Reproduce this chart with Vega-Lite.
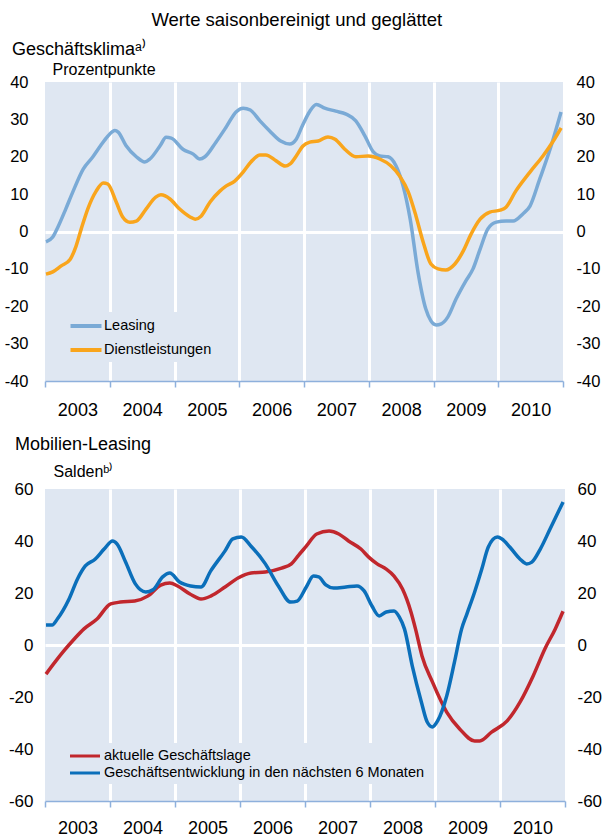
{
  "$schema": "https://vega.github.io/schema/vega-lite/v6.json",
  "padding": {"left": 0, "top": 10, "right": 0, "bottom": 0},
  "background": "white",
  "title": {"text": "Werte saisonbereinigt und geglättet", "fontSize": 18.5, "font": "Liberation Sans", "fontWeight": "normal", "color": "#000", "anchor": "middle", "dx": -4, "offset": 12},
  "config": {
    "font": "Liberation Sans",
    "view": {"fill": "#dfe7f2", "stroke": null},
    "axis": {"labelFont": "Liberation Sans", "labelColor": "#000", "titleFont": "Liberation Sans", "titleColor": "#000", "titleFontWeight": "normal"},
    "legend": {"labelFont": "Liberation Sans", "labelColor": "#000"},
    "title": {"font": "Liberation Sans", "color": "#000", "fontWeight": "normal"}
  },
  "columns": 1,
  "spacing": 17,
  "resolve": {"scale": {"color": "independent"}, "legend": {"color": "independent"}},
  "datasets": {
    "top": [
      {"s": "Leasing", "t": 2003.015, "v": -2.8}, {"s": "Leasing", "t": 2003.12, "v": -1.5}, {"s": "Leasing", "t": 2003.2, "v": 1.2}, {"s": "Leasing", "t": 2003.32, "v": 6}, {"s": "Leasing", "t": 2003.43, "v": 10.6}, {"s": "Leasing", "t": 2003.59, "v": 16.7}, {"s": "Leasing", "t": 2003.74, "v": 20}, {"s": "Leasing", "t": 2003.86, "v": 23}, {"s": "Leasing", "t": 2003.97, "v": 25.5}, {"s": "Leasing", "t": 2004.08, "v": 27}, {"s": "Leasing", "t": 2004.13, "v": 26.6}, {"s": "Leasing", "t": 2004.25, "v": 23}, {"s": "Leasing", "t": 2004.41, "v": 20}, {"s": "Leasing", "t": 2004.54, "v": 18.6}, {"s": "Leasing", "t": 2004.62, "v": 19.4}, {"s": "Leasing", "t": 2004.78, "v": 23}, {"s": "Leasing", "t": 2004.87, "v": 25.2}, {"s": "Leasing", "t": 2004.95, "v": 25}, {"s": "Leasing", "t": 2005.13, "v": 22}, {"s": "Leasing", "t": 2005.29, "v": 20.7}, {"s": "Leasing", "t": 2005.39, "v": 19.4}, {"s": "Leasing", "t": 2005.47, "v": 20}, {"s": "Leasing", "t": 2005.64, "v": 23.9}, {"s": "Leasing", "t": 2005.8, "v": 28}, {"s": "Leasing", "t": 2005.95, "v": 32}, {"s": "Leasing", "t": 2006.06, "v": 33}, {"s": "Leasing", "t": 2006.17, "v": 32.5}, {"s": "Leasing", "t": 2006.32, "v": 29.6}, {"s": "Leasing", "t": 2006.47, "v": 26.9}, {"s": "Leasing", "t": 2006.64, "v": 24.2}, {"s": "Leasing", "t": 2006.78, "v": 23.4}, {"s": "Leasing", "t": 2006.88, "v": 24.7}, {"s": "Leasing", "t": 2006.98, "v": 28.5}, {"s": "Leasing", "t": 2007.09, "v": 32.2}, {"s": "Leasing", "t": 2007.19, "v": 34}, {"s": "Leasing", "t": 2007.32, "v": 33}, {"s": "Leasing", "t": 2007.49, "v": 32.2}, {"s": "Leasing", "t": 2007.65, "v": 31.4}, {"s": "Leasing", "t": 2007.8, "v": 29.6}, {"s": "Leasing", "t": 2007.94, "v": 25.6}, {"s": "Leasing", "t": 2008.07, "v": 21.3}, {"s": "Leasing", "t": 2008.17, "v": 20.2}, {"s": "Leasing", "t": 2008.3, "v": 20}, {"s": "Leasing", "t": 2008.42, "v": 17.6}, {"s": "Leasing", "t": 2008.53, "v": 12.2}, {"s": "Leasing", "t": 2008.64, "v": 3.3}, {"s": "Leasing", "t": 2008.76, "v": -10.8}, {"s": "Leasing", "t": 2008.88, "v": -20.7}, {"s": "Leasing", "t": 2008.96, "v": -23.9}, {"s": "Leasing", "t": 2009.04, "v": -25}, {"s": "Leasing", "t": 2009.12, "v": -24.7}, {"s": "Leasing", "t": 2009.22, "v": -22.9}, {"s": "Leasing", "t": 2009.35, "v": -18}, {"s": "Leasing", "t": 2009.5, "v": -13.2}, {"s": "Leasing", "t": 2009.61, "v": -10}, {"s": "Leasing", "t": 2009.72, "v": -4.7}, {"s": "Leasing", "t": 2009.84, "v": 0.7}, {"s": "Leasing", "t": 2009.97, "v": 2.5}, {"s": "Leasing", "t": 2010.12, "v": 2.8}, {"s": "Leasing", "t": 2010.23, "v": 2.8}, {"s": "Leasing", "t": 2010.38, "v": 4.7}, {"s": "Leasing", "t": 2010.49, "v": 6.8}, {"s": "Leasing", "t": 2010.64, "v": 14}, {"s": "Leasing", "t": 2010.8, "v": 22}, {"s": "Leasing", "t": 2010.97, "v": 32},
      {"s": "Dienstleistungen", "t": 2003.015, "v": -11.4}, {"s": "Dienstleistungen", "t": 2003.12, "v": -10.8}, {"s": "Dienstleistungen", "t": 2003.25, "v": -9.2}, {"s": "Dienstleistungen", "t": 2003.39, "v": -7.4}, {"s": "Dienstleistungen", "t": 2003.48, "v": -3.9}, {"s": "Dienstleistungen", "t": 2003.56, "v": 0.7}, {"s": "Dienstleistungen", "t": 2003.66, "v": 6}, {"s": "Dienstleistungen", "t": 2003.79, "v": 10.8}, {"s": "Dienstleistungen", "t": 2003.9, "v": 13}, {"s": "Dienstleistungen", "t": 2003.97, "v": 12.7}, {"s": "Dienstleistungen", "t": 2004.1, "v": 7.9}, {"s": "Dienstleistungen", "t": 2004.2, "v": 3.9}, {"s": "Dienstleistungen", "t": 2004.31, "v": 2.5}, {"s": "Dienstleistungen", "t": 2004.41, "v": 2.8}, {"s": "Dienstleistungen", "t": 2004.56, "v": 6}, {"s": "Dienstleistungen", "t": 2004.71, "v": 9.2}, {"s": "Dienstleistungen", "t": 2004.79, "v": 9.8}, {"s": "Dienstleistungen", "t": 2004.93, "v": 8.7}, {"s": "Dienstleistungen", "t": 2005.08, "v": 6}, {"s": "Dienstleistungen", "t": 2005.24, "v": 3.9}, {"s": "Dienstleistungen", "t": 2005.32, "v": 3.3}, {"s": "Dienstleistungen", "t": 2005.41, "v": 4.1}, {"s": "Dienstleistungen", "t": 2005.55, "v": 7.9}, {"s": "Dienstleistungen", "t": 2005.7, "v": 10.8}, {"s": "Dienstleistungen", "t": 2005.8, "v": 12.2}, {"s": "Dienstleistungen", "t": 2005.93, "v": 13.5}, {"s": "Dienstleistungen", "t": 2006.06, "v": 15.9}, {"s": "Dienstleistungen", "t": 2006.18, "v": 18.6}, {"s": "Dienstleistungen", "t": 2006.32, "v": 20.5}, {"s": "Dienstleistungen", "t": 2006.41, "v": 20.5}, {"s": "Dienstleistungen", "t": 2006.57, "v": 18.9}, {"s": "Dienstleistungen", "t": 2006.71, "v": 17.5}, {"s": "Dienstleistungen", "t": 2006.78, "v": 18}, {"s": "Dienstleistungen", "t": 2006.88, "v": 20.2}, {"s": "Dienstleistungen", "t": 2006.98, "v": 22.8}, {"s": "Dienstleistungen", "t": 2007.09, "v": 23.9}, {"s": "Dienstleistungen", "t": 2007.22, "v": 24.2}, {"s": "Dienstleistungen", "t": 2007.37, "v": 25.3}, {"s": "Dienstleistungen", "t": 2007.48, "v": 24.7}, {"s": "Dienstleistungen", "t": 2007.63, "v": 22}, {"s": "Dienstleistungen", "t": 2007.8, "v": 20}, {"s": "Dienstleistungen", "t": 2007.99, "v": 20.2}, {"s": "Dienstleistungen", "t": 2008.17, "v": 19.4}, {"s": "Dienstleistungen", "t": 2008.34, "v": 17.6}, {"s": "Dienstleistungen", "t": 2008.48, "v": 14.8}, {"s": "Dienstleistungen", "t": 2008.61, "v": 10.6}, {"s": "Dienstleistungen", "t": 2008.73, "v": 4.1}, {"s": "Dienstleistungen", "t": 2008.84, "v": -2.8}, {"s": "Dienstleistungen", "t": 2008.96, "v": -8.7}, {"s": "Dienstleistungen", "t": 2009.07, "v": -10}, {"s": "Dienstleistungen", "t": 2009.19, "v": -10.3}, {"s": "Dienstleistungen", "t": 2009.33, "v": -8.7}, {"s": "Dienstleistungen", "t": 2009.46, "v": -5.2}, {"s": "Dienstleistungen", "t": 2009.58, "v": -0.7}, {"s": "Dienstleistungen", "t": 2009.72, "v": 3.3}, {"s": "Dienstleistungen", "t": 2009.87, "v": 5.2}, {"s": "Dienstleistungen", "t": 2010.03, "v": 5.7}, {"s": "Dienstleistungen", "t": 2010.12, "v": 6.5}, {"s": "Dienstleistungen", "t": 2010.27, "v": 10.8}, {"s": "Dienstleistungen", "t": 2010.49, "v": 15.9}, {"s": "Dienstleistungen", "t": 2010.69, "v": 20.2}, {"s": "Dienstleistungen", "t": 2010.85, "v": 24.2}, {"s": "Dienstleistungen", "t": 2010.97, "v": 27.7}
    ],
    "bottom": [
      {"s": "aktuelle Geschäftslage", "t": 2003.015, "v": -11.2}, {"s": "aktuelle Geschäftslage", "t": 2003.15, "v": -6.7}, {"s": "aktuelle Geschäftslage", "t": 2003.29, "v": -2.3}, {"s": "aktuelle Geschäftslage", "t": 2003.45, "v": 2.3}, {"s": "aktuelle Geschäftslage", "t": 2003.6, "v": 6.2}, {"s": "aktuelle Geschäftslage", "t": 2003.8, "v": 10}, {"s": "aktuelle Geschäftslage", "t": 2004.01, "v": 15.8}, {"s": "aktuelle Geschäftslage", "t": 2004.16, "v": 16.5}, {"s": "aktuelle Geschäftslage", "t": 2004.38, "v": 16.9}, {"s": "aktuelle Geschäftslage", "t": 2004.58, "v": 18.8}, {"s": "aktuelle Geschäftslage", "t": 2004.78, "v": 23}, {"s": "aktuelle Geschäftslage", "t": 2004.92, "v": 23.8}, {"s": "aktuelle Geschäftslage", "t": 2005.04, "v": 22.7}, {"s": "aktuelle Geschäftslage", "t": 2005.23, "v": 19.6}, {"s": "aktuelle Geschäftslage", "t": 2005.4, "v": 17.7}, {"s": "aktuelle Geschäftslage", "t": 2005.55, "v": 18.8}, {"s": "aktuelle Geschäftslage", "t": 2005.77, "v": 22.3}, {"s": "aktuelle Geschäftslage", "t": 2005.97, "v": 25.8}, {"s": "aktuelle Geschäftslage", "t": 2006.17, "v": 27.7}, {"s": "aktuelle Geschäftslage", "t": 2006.39, "v": 28.1}, {"s": "aktuelle Geschäftslage", "t": 2006.64, "v": 29.6}, {"s": "aktuelle Geschäftslage", "t": 2006.79, "v": 31.2}, {"s": "aktuelle Geschäftslage", "t": 2006.9, "v": 34.5}, {"s": "aktuelle Geschäftslage", "t": 2007.02, "v": 38}, {"s": "aktuelle Geschäftslage", "t": 2007.18, "v": 42.7}, {"s": "aktuelle Geschäftslage", "t": 2007.37, "v": 43.8}, {"s": "aktuelle Geschäftslage", "t": 2007.52, "v": 42.7}, {"s": "aktuelle Geschäftslage", "t": 2007.67, "v": 40}, {"s": "aktuelle Geschäftslage", "t": 2007.86, "v": 36.9}, {"s": "aktuelle Geschäftslage", "t": 2007.98, "v": 33.8}, {"s": "aktuelle Geschäftslage", "t": 2008.11, "v": 31.2}, {"s": "aktuelle Geschäftslage", "t": 2008.25, "v": 29.2}, {"s": "aktuelle Geschäftslage", "t": 2008.37, "v": 26.5}, {"s": "aktuelle Geschäftslage", "t": 2008.5, "v": 21.5}, {"s": "aktuelle Geschäftslage", "t": 2008.63, "v": 12.7}, {"s": "aktuelle Geschäftslage", "t": 2008.7, "v": 6.2}, {"s": "aktuelle Geschäftslage", "t": 2008.8, "v": -4.2}, {"s": "aktuelle Geschäftslage", "t": 2008.96, "v": -14.2}, {"s": "aktuelle Geschäftslage", "t": 2009.18, "v": -25.8}, {"s": "aktuelle Geschäftslage", "t": 2009.38, "v": -32.3}, {"s": "aktuelle Geschäftslage", "t": 2009.61, "v": -36.9}, {"s": "aktuelle Geschäftslage", "t": 2009.69, "v": -36.9}, {"s": "aktuelle Geschäftslage", "t": 2009.87, "v": -33.5}, {"s": "aktuelle Geschäftslage", "t": 2010.11, "v": -29.2}, {"s": "aktuelle Geschäftslage", "t": 2010.31, "v": -21.9}, {"s": "aktuelle Geschäftslage", "t": 2010.51, "v": -11.9}, {"s": "aktuelle Geschäftslage", "t": 2010.69, "v": -1.5}, {"s": "aktuelle Geschäftslage", "t": 2010.85, "v": 6.2}, {"s": "aktuelle Geschäftslage", "t": 2010.97, "v": 13},
      {"s": "Geschäftsentwicklung in den nächsten 6 Monaten", "t": 2003.015, "v": 7.7}, {"s": "Geschäftsentwicklung in den nächsten 6 Monaten", "t": 2003.11, "v": 7.7}, {"s": "Geschäftsentwicklung in den nächsten 6 Monaten", "t": 2003.19, "v": 10}, {"s": "Geschäftsentwicklung in den nächsten 6 Monaten", "t": 2003.37, "v": 17.7}, {"s": "Geschäftsentwicklung in den nächsten 6 Monaten", "t": 2003.5, "v": 25.4}, {"s": "Geschäftsentwicklung in den nächsten 6 Monaten", "t": 2003.62, "v": 30.4}, {"s": "Geschäftsentwicklung in den nächsten 6 Monaten", "t": 2003.77, "v": 33}, {"s": "Geschäftsentwicklung in den nächsten 6 Monaten", "t": 2003.91, "v": 36.9}, {"s": "Geschäftsentwicklung in den nächsten 6 Monaten", "t": 2004.04, "v": 40}, {"s": "Geschäftsentwicklung in den nächsten 6 Monaten", "t": 2004.11, "v": 38.8}, {"s": "Geschäftsentwicklung in den nächsten 6 Monaten", "t": 2004.24, "v": 31.9}, {"s": "Geschäftsentwicklung in den nächsten 6 Monaten", "t": 2004.39, "v": 23.5}, {"s": "Geschäftsentwicklung in den nächsten 6 Monaten", "t": 2004.55, "v": 20.4}, {"s": "Geschäftsentwicklung in den nächsten 6 Monaten", "t": 2004.66, "v": 21.2}, {"s": "Geschäftsentwicklung in den nächsten 6 Monaten", "t": 2004.81, "v": 26.2}, {"s": "Geschäftsentwicklung in den nächsten 6 Monaten", "t": 2004.92, "v": 27.7}, {"s": "Geschäftsentwicklung in den nächsten 6 Monaten", "t": 2005.07, "v": 24.2}, {"s": "Geschäftsentwicklung in den nächsten 6 Monaten", "t": 2005.24, "v": 22.7}, {"s": "Geschäftsentwicklung in den nächsten 6 Monaten", "t": 2005.4, "v": 22.3}, {"s": "Geschäftsentwicklung in den nächsten 6 Monaten", "t": 2005.55, "v": 28.5}, {"s": "Geschäftsentwicklung in den nächsten 6 Monaten", "t": 2005.77, "v": 36.2}, {"s": "Geschäftsentwicklung in den nächsten 6 Monaten", "t": 2005.89, "v": 40.8}, {"s": "Geschäftsentwicklung in den nächsten 6 Monaten", "t": 2006.02, "v": 41.5}, {"s": "Geschäftsentwicklung in den nächsten 6 Monaten", "t": 2006.17, "v": 38}, {"s": "Geschäftsentwicklung in den nächsten 6 Monaten", "t": 2006.39, "v": 31.2}, {"s": "Geschäftsentwicklung in den nächsten 6 Monaten", "t": 2006.59, "v": 22.7}, {"s": "Geschäftsentwicklung in den nächsten 6 Monaten", "t": 2006.78, "v": 16.5}, {"s": "Geschäftsentwicklung in den nächsten 6 Monaten", "t": 2006.88, "v": 16.9}, {"s": "Geschäftsentwicklung in den nächsten 6 Monaten", "t": 2007.02, "v": 22.3}, {"s": "Geschäftsentwicklung in den nächsten 6 Monaten", "t": 2007.13, "v": 26.5}, {"s": "Geschäftsentwicklung in den nächsten 6 Monaten", "t": 2007.21, "v": 26.2}, {"s": "Geschäftsentwicklung in den nächsten 6 Monaten", "t": 2007.32, "v": 23.1}, {"s": "Geschäftsentwicklung in den nächsten 6 Monaten", "t": 2007.44, "v": 21.9}, {"s": "Geschäftsentwicklung in den nächsten 6 Monaten", "t": 2007.63, "v": 22.3}, {"s": "Geschäftsentwicklung in den nächsten 6 Monaten", "t": 2007.8, "v": 22.7}, {"s": "Geschäftsentwicklung in den nächsten 6 Monaten", "t": 2007.91, "v": 20.8}, {"s": "Geschäftsentwicklung in den nächsten 6 Monaten", "t": 2008.03, "v": 15}, {"s": "Geschäftsentwicklung in den nächsten 6 Monaten", "t": 2008.14, "v": 11.2}, {"s": "Geschäftsentwicklung in den nächsten 6 Monaten", "t": 2008.25, "v": 12.7}, {"s": "Geschäftsentwicklung in den nächsten 6 Monaten", "t": 2008.37, "v": 13.1}, {"s": "Geschäftsentwicklung in den nächsten 6 Monaten", "t": 2008.45, "v": 10.8}, {"s": "Geschäftsentwicklung in den nächsten 6 Monaten", "t": 2008.53, "v": 6.2}, {"s": "Geschäftsentwicklung in den nächsten 6 Monaten", "t": 2008.65, "v": -8}, {"s": "Geschäftsentwicklung in den nächsten 6 Monaten", "t": 2008.79, "v": -21.9}, {"s": "Geschäftsentwicklung in den nächsten 6 Monaten", "t": 2008.88, "v": -29.6}, {"s": "Geschäftsentwicklung in den nächsten 6 Monaten", "t": 2008.96, "v": -31.5}, {"s": "Geschäftsentwicklung in den nächsten 6 Monaten", "t": 2009.04, "v": -29.2}, {"s": "Geschäftsentwicklung in den nächsten 6 Monaten", "t": 2009.18, "v": -19.6}, {"s": "Geschäftsentwicklung in den nächsten 6 Monaten", "t": 2009.3, "v": -6.5}, {"s": "Geschäftsentwicklung in den nächsten 6 Monaten", "t": 2009.41, "v": 6.2}, {"s": "Geschäftsentwicklung in den nächsten 6 Monaten", "t": 2009.49, "v": 11.9}, {"s": "Geschäftsentwicklung in den nächsten 6 Monaten", "t": 2009.61, "v": 20.4}, {"s": "Geschäftsentwicklung in den nächsten 6 Monaten", "t": 2009.72, "v": 29.2}, {"s": "Geschäftsentwicklung in den nächsten 6 Monaten", "t": 2009.82, "v": 37.7}, {"s": "Geschäftsentwicklung in den nächsten 6 Monaten", "t": 2009.96, "v": 41.5}, {"s": "Geschäftsentwicklung in den nächsten 6 Monaten", "t": 2010.03, "v": 40.8}, {"s": "Geschäftsentwicklung in den nächsten 6 Monaten", "t": 2010.15, "v": 37.7}, {"s": "Geschäftsentwicklung in den nächsten 6 Monaten", "t": 2010.31, "v": 33}, {"s": "Geschäftsentwicklung in den nächsten 6 Monaten", "t": 2010.41, "v": 31.2}, {"s": "Geschäftsentwicklung in den nächsten 6 Monaten", "t": 2010.49, "v": 31.9}, {"s": "Geschäftsentwicklung in den nächsten 6 Monaten", "t": 2010.62, "v": 36.9}, {"s": "Geschäftsentwicklung in den nächsten 6 Monaten", "t": 2010.77, "v": 44.6}, {"s": "Geschäftsentwicklung in den nächsten 6 Monaten", "t": 2010.97, "v": 55}
    ]
  },
  "concat": [
    {
      "width": 518,
      "height": 299,
      "title": {"text": "Geschäftsklimaᵃ⁾", "anchor": "start", "frame": "group", "dx": -33, "fontSize": 18, "offset": 2},
      "data": {"name": "top"},
      "layer": [
        {
          "mark": {"type": "line", "strokeWidth": 3.5, "interpolate": "monotone"},
          "encoding": {
            "x": {"field": "t", "type": "quantitative", "scale": {"domain": [2003, 2011], "nice": false, "zero": false},
              "axis": {"title": null, "values": [2003, 2003.5, 2004, 2004.5, 2005, 2005.5, 2006, 2006.5, 2007, 2007.5, 2008, 2008.5, 2009, 2009.5, 2010, 2010.5, 2011],
                "labelExpr": "datum.value % 1 == 0.5 ? '' + floor(datum.value) : ''", "labelFontSize": 18, "labelPadding": 14, "labelFlush": false, "labelOverlap": false, "labelBound": false,
                "domainColor": "#8eb0dc", "domainWidth": 1.5, "tickColor": "#8eb0dc", "tickWidth": 1.5, "tickSize": 6,
                "tickOpacity": {"condition": {"test": "datum.value % 1 == 0", "value": 1}, "value": 0},
                "grid": true, "gridColor": "white", "gridWidth": 3,
                "gridOpacity": {"condition": {"test": "datum.value % 1 == 0 && datum.value > 2003 && datum.value < 2011", "value": 1}, "value": 0}}},
            "y": {"field": "v", "type": "quantitative", "scale": {"domain": [-40, 40], "nice": false},
              "axis": {"orient": "left", "values": [-40, -30, -20, -10, 0, 10, 20, 30, 40], "labelExpr": "'' + datum.value", "labelFontSize": 16.5, "labelPadding": 17, "ticks": false, "domain": false, "minExtent": 45, "maxExtent": 45,
                "grid": true, "gridColor": "white", "gridWidth": 3,
                "gridOpacity": {"condition": {"test": "datum.value == 0", "value": 1}, "value": 0},
                "title": "Prozentpunkte", "titleAngle": 0, "titleAlign": "left", "titleBaseline": "alphabetic", "titleX": 7, "titleY": -8, "titleFontSize": 16}},
            "color": {"field": "s", "type": "nominal", "scale": {"domain": ["Leasing", "Dienstleistungen"], "range": ["#7aaad6", "#f9a51c"]},
              "legend": {"orient": "none", "legendX": 27, "legendY": 230, "title": null, "symbolType": "M-2,0H2", "symbolStrokeWidth": 4, "symbolSize": 240, "labelFontSize": 14.5, "labelOffset": 8, "fillColor": "#dfe7f2", "padding": 4, "rowPadding": 6}}
          }
        },
        {
          "mark": {"type": "rule", "opacity": 0},
          "encoding": {
            "y": {"field": "v", "type": "quantitative", "scale": {"domain": [-40, 40], "nice": false},
              "axis": {"orient": "right", "values": [-40, -30, -20, -10, 0, 10, 20, 30, 40], "labelExpr": "'' + datum.value", "labelFontSize": 16.5, "labelPadding": 13, "ticks": false, "domain": false, "grid": false, "title": null}}
          }
        }
      ],
      "resolve": {"scale": {"y": "independent"}}
    },
    {
      "width": 520,
      "height": 312,
      "title": {"text": "Mobilien-Leasing", "anchor": "start", "frame": "group", "dx": -30, "fontSize": 18, "offset": 9},
      "data": {"name": "bottom"},
      "layer": [
        {
          "mark": {"type": "line", "strokeWidth": 3.5, "interpolate": "monotone"},
          "encoding": {
            "x": {"field": "t", "type": "quantitative", "scale": {"domain": [2003, 2011], "nice": false, "zero": false},
              "axis": {"title": null, "values": [2003, 2003.5, 2004, 2004.5, 2005, 2005.5, 2006, 2006.5, 2007, 2007.5, 2008, 2008.5, 2009, 2009.5, 2010, 2010.5, 2011],
                "labelExpr": "datum.value % 1 == 0.5 ? '' + floor(datum.value) : ''", "labelFontSize": 18, "labelPadding": 12, "labelFlush": false, "labelOverlap": false, "labelBound": false,
                "domainColor": "#8eb0dc", "domainWidth": 1.5, "tickColor": "#8eb0dc", "tickWidth": 1.5, "tickSize": 6,
                "tickOpacity": {"condition": {"test": "datum.value % 1 == 0", "value": 1}, "value": 0},
                "grid": true, "gridColor": "white", "gridWidth": 3,
                "gridOpacity": {"condition": {"test": "datum.value % 1 == 0 && datum.value > 2003 && datum.value < 2011", "value": 1}, "value": 0}}},
            "y": {"field": "v", "type": "quantitative", "scale": {"domain": [-60, 60], "nice": false},
              "axis": {"orient": "left", "values": [-60, -40, -20, 0, 20, 40, 60], "labelExpr": "'' + datum.value", "labelFontSize": 17, "labelPadding": 12, "ticks": false, "domain": false, "minExtent": 45, "maxExtent": 45,
                "grid": true, "gridColor": "white", "gridWidth": 3,
                "gridOpacity": {"condition": {"test": "datum.value == 0", "value": 1}, "value": 0},
                "title": "Saldenᵇ⁾", "titleAngle": 0, "titleAlign": "left", "titleBaseline": "alphabetic", "titleX": 8, "titleY": -13, "titleFontSize": 16}},
            "color": {"field": "s", "type": "nominal", "scale": {"domain": ["aktuelle Geschäftslage", "Geschäftsentwicklung in den nächsten 6 Monaten"], "range": ["#c1272d", "#0b6fba"]},
              "legend": {"orient": "none", "legendX": 27, "legendY": 254, "title": null, "symbolType": "M-2,0H2", "symbolStrokeWidth": 3, "symbolSize": 225, "labelFontSize": 14.5, "labelOffset": 10, "fillColor": "#dfe7f2", "padding": 4, "rowPadding": 1, "labelLimit": 400}}
          }
        },
        {
          "mark": {"type": "rule", "opacity": 0},
          "encoding": {
            "y": {"field": "v", "type": "quantitative", "scale": {"domain": [-60, 60], "nice": false},
              "axis": {"orient": "right", "values": [-60, -40, -20, 0, 20, 40, 60], "labelExpr": "'' + datum.value", "labelFontSize": 17, "labelPadding": 12, "ticks": false, "domain": false, "grid": false, "title": null}}
          }
        }
      ],
      "resolve": {"scale": {"y": "independent"}}
    }
  ]
}
